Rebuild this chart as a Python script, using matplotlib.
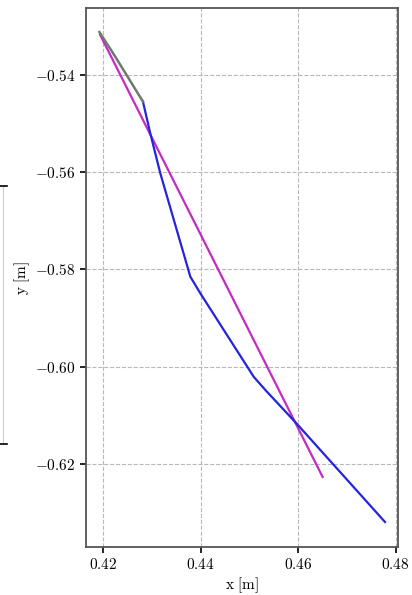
import matplotlib
matplotlib.use("Agg")
import matplotlib.pyplot as plt
from matplotlib.lines import Line2D

plt.rcParams['mathtext.fontset'] = 'cm'
plt.rcParams['axes.formatter.use_mathtext'] = True
plt.rcParams['font.family'] = 'serif'
plt.rcParams['font.serif'] = ['DejaVu Serif']

# gray segment (start of path)
gray_x = [0.41924, 0.42247, 0.42816]
gray_y = [-0.53128, -0.53630, -0.54555]

# blue path
blue_x = [0.42816, 0.42966, 0.43172, 0.43789, 0.43994,
          0.45090, 0.45331, 0.45968, 0.47783]
blue_y = [-0.54555, -0.55205, -0.56027, -0.58153, -0.58494,
          -0.60209, -0.60482, -0.61167, -0.63190]

# magenta straight reference
mag_x = [0.41938, 0.46503]
mag_y = [-0.53184, -0.62265]

xticks = [0.42, 0.44, 0.46, 0.48]
yticks = [-0.54, -0.56, -0.58, -0.60, -0.62]

fig = plt.figure(figsize=(4.12, 5.95), dpi=100)
ax = fig.add_axes([0.209, 0.081, 0.757, 0.905])

ax.plot(mag_x, mag_y, color='#c42ac4', lw=1.6)
ax.plot(blue_x, blue_y, color='#2424dc', lw=1.6)
ax.plot(gray_x, gray_y, color='#6f7a6f', lw=1.8)

ax.set_xlim(0.4165, 0.4805)
ax.set_ylim(-0.6370, -0.5264)
ax.set_xticks(xticks)
ax.set_yticks(yticks)
ax.set_xticklabels([r'$%.2f$' % v for v in xticks])
ax.set_yticklabels([r'$-%.2f$' % abs(v) for v in yticks])
ax.tick_params(labelsize=11, length=4, width=1.2, colors='black')
ax.grid(True, linestyle='--', color='#b8b8b8', lw=0.8)
for sp in ax.spines.values():
    sp.set_color('#555555')
    sp.set_linewidth(1.3)

ax.set_xlabel(r'$\mathrm{x\ [m]}$', fontsize=11, labelpad=2)
ax.set_ylabel(r'$\mathrm{y\ [m]}$', fontsize=11, labelpad=2)

# edge of a neighbouring panel, cut off at the left
fig.add_artist(Line2D([0.007, 0.007], [1 - 186 / 595, 1 - 444 / 595],
                      color='#cccccc', lw=0.8))
fig.add_artist(Line2D([0.0, 0.016], [1 - 186 / 595, 1 - 186 / 595], color='black', lw=1.2))
fig.add_artist(Line2D([0.0, 0.016], [1 - 444 / 595, 1 - 444 / 595], color='black', lw=1.2))

fig.savefig('out.png', dpi=100)
